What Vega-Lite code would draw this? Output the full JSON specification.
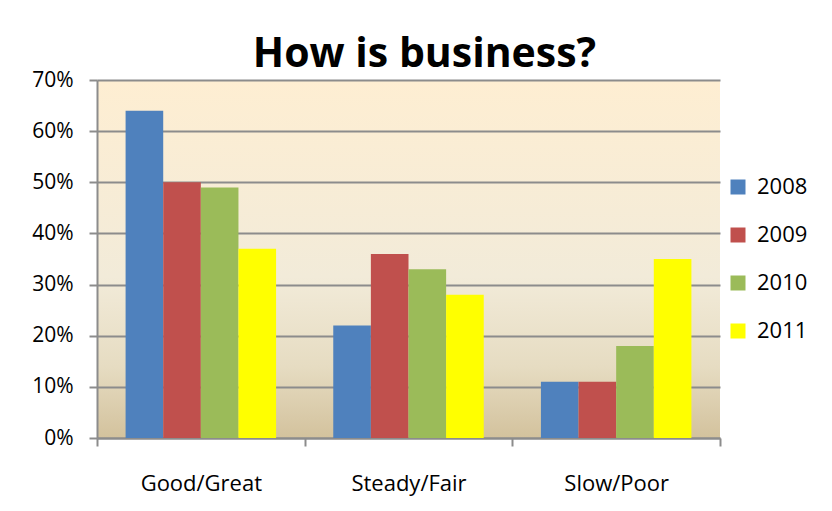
{
  "$schema": "https://vega.github.io/schema/vega-lite/v6.json",
  "width": 623,
  "height": 358,
  "autosize": "none",
  "padding": {"left": 97, "top": 80, "right": 112, "bottom": 73},
  "background": "white",
  "title": {
    "text": "How is business?",
    "font": "Open Sans",
    "fontSize": 41,
    "fontWeight": "bold",
    "color": "black",
    "anchor": "middle",
    "baseline": "alphabetic",
    "offset": -39,
    "dx": 16
  },
  "data": {
    "values": [
      {"cat": "Good/Great", "year": "2008", "v": 0.64},
      {"cat": "Good/Great", "year": "2009", "v": 0.50},
      {"cat": "Good/Great", "year": "2010", "v": 0.49},
      {"cat": "Good/Great", "year": "2011", "v": 0.37},
      {"cat": "Steady/Fair", "year": "2008", "v": 0.22},
      {"cat": "Steady/Fair", "year": "2009", "v": 0.36},
      {"cat": "Steady/Fair", "year": "2010", "v": 0.33},
      {"cat": "Steady/Fair", "year": "2011", "v": 0.28},
      {"cat": "Slow/Poor", "year": "2008", "v": 0.11},
      {"cat": "Slow/Poor", "year": "2009", "v": 0.11},
      {"cat": "Slow/Poor", "year": "2010", "v": 0.18},
      {"cat": "Slow/Poor", "year": "2011", "v": 0.35}
    ]
  },
  "mark": {"type": "bar"},
  "encoding": {
    "x": {
      "field": "cat",
      "type": "nominal",
      "sort": ["Good/Great", "Steady/Fair", "Slow/Poor"],
      "scale": {"paddingInner": 0, "paddingOuter": 0},
      "axis": {
        "title": null,
        "labelAngle": 0,
        "labelFont": "Open Sans",
        "labelFontSize": 22,
        "labelColor": "black",
        "labelPadding": 27,
        "tickBand": "extent",
        "tickSize": 8,
        "tickWidth": 2,
        "tickColor": "#8C8C8C",
        "domainColor": "#8C8C8C",
        "domainWidth": 2,
        "grid": false
      }
    },
    "xOffset": {"field": "year", "type": "nominal", "scale": {"paddingInner": 0, "paddingOuter": 0.76}},
    "y": {
      "field": "v",
      "type": "quantitative",
      "scale": {"domain": [0, 0.7], "nice": false},
      "axis": {
        "title": null,
        "format": ".0%",
        "values": [0, 0.1, 0.2, 0.3, 0.4, 0.5, 0.6, 0.7],
        "labelFont": "Open Sans",
        "labelFontSize": 21,
        "labelColor": "black",
        "labelPadding": 16,
        "tickSize": 8,
        "tickWidth": 2,
        "tickColor": "#8C8C8C",
        "domainColor": "#8C8C8C",
        "domainWidth": 2,
        "grid": true,
        "gridColor": "#8C8C8C",
        "gridWidth": 2
      }
    },
    "color": {
      "field": "year",
      "type": "nominal",
      "scale": {"domain": ["2008", "2009", "2010", "2011"], "range": ["#4F81BD", "#C0504D", "#9BBB59", "#FFFF00"]},
      "legend": {
        "title": null,
        "orient": "none",
        "legendX": 630,
        "legendY": 96,
        "symbolType": "square",
        "symbolSize": 225,
        "symbolStrokeWidth": 0,
        "labelFont": "Open Sans",
        "labelFontSize": 22,
        "labelColor": "black",
        "labelOffset": 8,
        "rowPadding": 26
      }
    }
  },
  "config": {
    "view": {
      "stroke": null,
      "fill": {
        "gradient": "linear",
        "x1": 0, "y1": 0, "x2": 0, "y2": 1,
        "stops": [
          {"offset": 0, "color": "#FEEED2"},
          {"offset": 0.55, "color": "#F2EBD9"},
          {"offset": 0.8, "color": "#E6DCC2"},
          {"offset": 1, "color": "#D3C29D"}
        ]
      }
    }
  }
}
